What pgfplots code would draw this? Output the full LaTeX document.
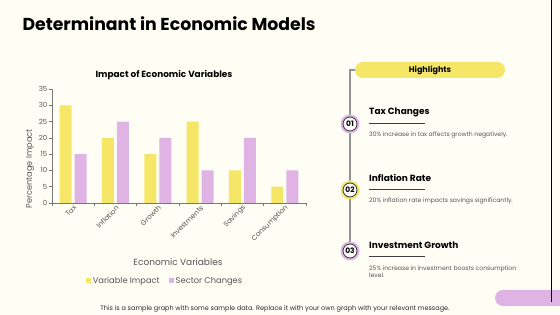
\documentclass[border=0pt]{standalone}
\usepackage{pgfplots}
\pgfplotsset{compat=1.18}
\usepackage{fontspec}
\setmainfont{Poppins}
\definecolor{bg}{RGB}{255,254,245}
\definecolor{cYel}{RGB}{245,230,104}
\definecolor{cPur}{RGB}{223,180,228}
\definecolor{txtgray}{RGB}{85,85,85}
\definecolor{axgray}{RGB}{120,120,120}
\begin{document}
\begin{tikzpicture}[x=1pt,y=1pt]
\useasboundingbox (0,0) rectangle (560,315);
\begin{scope}
\clip (0,0) rectangle (560,315);
\fill[bg] (0,0) rectangle (560,315);
% right decorations
\fill[cPur] (495,9) [rounded corners=8pt] rectangle (600,25);
\draw[black, line width=1pt] (551,315) -- (551,13);
\end{scope}
% title
\node[anchor=west, font=\fontsize{17.3}{20}\selectfont\bfseries] at (19,291) {Determinant in Economic Models};
% chart
\begin{axis}[
  at={(52pt,112pt)}, anchor=south west,
  scale only axis, width=254pt, height=114pt,
  xmin=-0.5, xmax=5.5, ymin=0, ymax=35,
  axis lines*=left,
  axis line style={axgray, line width=0.6pt},
  ytick={0,5,...,35},
  xtick={0,...,5},
  xticklabels={Tax,Inflation,Growth,Investments,Savings,Consumption},
  minor xtick={-0.5,0.5,...,5.5},
  major x tick style={draw=none},
  minor x tick style={axgray, line width=0.6pt},
  y tick style={axgray, line width=0.6pt},
  tick align=outside,
  major tick length=3pt, minor tick length=3pt,
  ticklabel style={font=\fontsize{7}{8}\selectfont, text=txtgray},
  xticklabel style={rotate=45, anchor=east, inner sep=1pt, xshift=2pt, yshift=-2pt},
  yticklabel style={inner sep=1.5pt},
  /pgf/number format/assume math mode=true,
  ybar, bar width=12pt,
  legend style={at={(0.445,-0.684)}, anchor=center, draw=none, fill=none,
    legend columns=2, font=\fontsize{8.3}{10}\selectfont, text=txtgray,
    /tikz/every even column/.append style={column sep=7pt}},
  legend image code/.code={\fill[#1] (0pt,-2.5pt) rectangle (5pt,2.5pt);},
]
\addplot[fill=cYel, draw=none, bar shift=-7.5pt] coordinates {(0,30) (1,20) (2,15) (3,25) (4,10) (5,5)};
\addplot[fill=cPur, draw=none, bar shift=7.5pt] coordinates {(0,15) (1,25) (2,20) (3,10) (4,20) (5,10)};
\legend{Variable Impact, Sector Changes}
\end{axis}
\node[font=\fontsize{8.9}{10}\selectfont\bfseries] at (164,240) {Impact of Economic Variables};
\node[rotate=90, font=\fontsize{8.2}{10}\selectfont, text=txtgray] at (30,146) {Percentage Impact};
\node[font=\fontsize{9}{10}\selectfont, text=txtgray] at (178,53) {Economic Variables};
% right panel
\draw[axgray!80, line width=1.2pt] (358,245) -- (350,245) -- (350,64);
\fill[cYel] (355,237) [rounded corners=8pt] rectangle (505,253);
\node[font=\fontsize{8}{10}\selectfont\bfseries] at (430,245) {Highlights};
\foreach \yy/\cc/\nn in {191/cPur/01, 125/cYel/02, 64/cPur/03}{
  \fill[\cc] (350,\yy) circle (9.5pt);
  \fill[white] (350,\yy) circle (7pt);
  \draw[black!80, line width=0.8pt] (350,\yy) circle (7pt);
  \node[font=\fontsize{7.5}{9}\selectfont\bfseries] at (350,\yy) {\nn};
}
\foreach \yy/\hh/\dd in {203/Tax Changes/{30\% increase in tax affects growth negatively.}, 137/Inflation Rate/{20\% inflation rate impacts savings significantly.}}{
  \node[anchor=west, inner sep=0pt, font=\fontsize{9}{11}\selectfont\bfseries] at (369,\yy) {\hh};
  \draw[black!75, line width=0.7pt] (369,\yy-11) -- (425,\yy-11);
  \node[anchor=west, inner sep=0pt, font=\fontsize{6.1}{7}\selectfont, text=txtgray] at (369,\yy-23) {\dd};
}
\node[anchor=west, inner sep=0pt, font=\fontsize{9}{11}\selectfont\bfseries] at (369,70) {Investment Growth};
\draw[black!75, line width=0.7pt] (369,59) -- (425,59);
\node[anchor=north west, inner sep=0pt, align=left, font=\fontsize{6.1}{6.8}\selectfont, text=txtgray] at (369,49) {25\% increase in investment boosts consumption\\level.};
% footer
\node[font=\fontsize{6.5}{7}\selectfont, text=black!85] at (275,6) {This is a sample graph with some sample data. Replace it with your own graph with your relevant message.};
\end{tikzpicture}
\end{document}
